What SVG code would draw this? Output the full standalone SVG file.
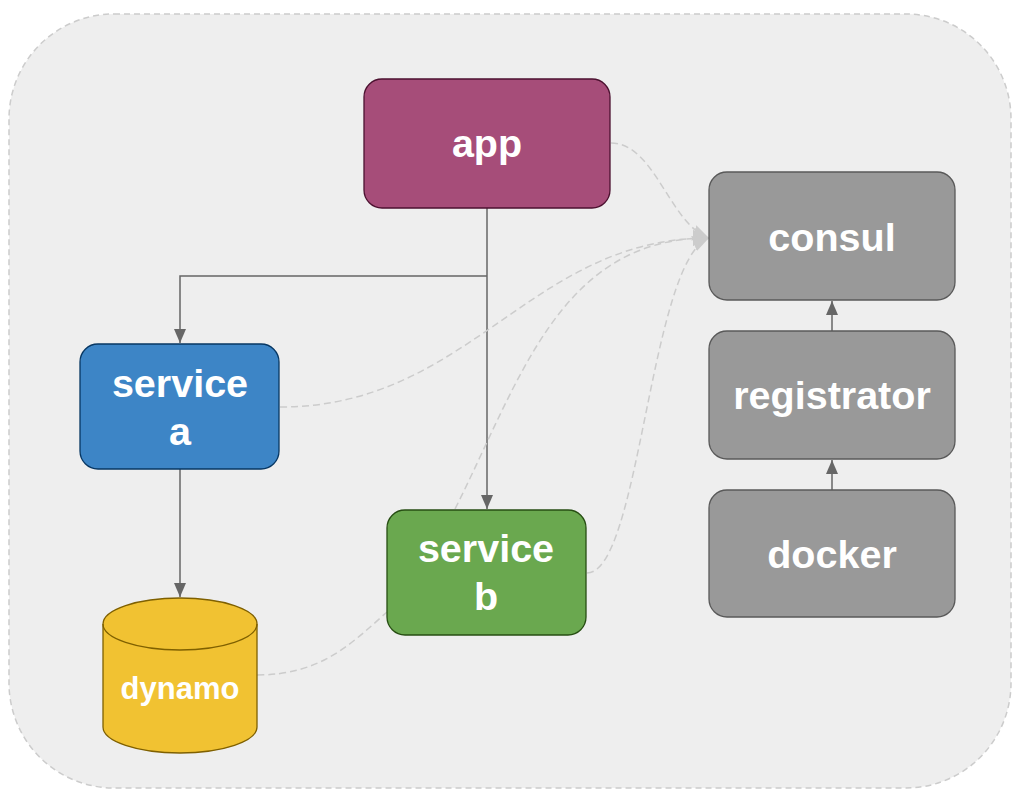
<svg xmlns="http://www.w3.org/2000/svg" width="1022" height="802" viewBox="0 0 1022 802">
<defs>
<marker id="solidArrow" markerUnits="userSpaceOnUse" markerWidth="14" markerHeight="12" refX="14" refY="6" orient="auto">
<path d="M0,0 L14,6 L0,12 Z" fill="#666666"/>
</marker>
<marker id="dashArrow" markerUnits="userSpaceOnUse" markerWidth="16" markerHeight="16" refX="16" refY="8" orient="auto">
<path d="M0,0 L16,8 L0,16 Z" fill="#cccccc"/>
</marker>
</defs>
<style>
.lbl{font-family:"Liberation Sans",Arial,sans-serif;font-weight:bold;fill:#ffffff;text-anchor:middle;font-size:39.5px}
.solid{fill:none;stroke:#666666;stroke-width:1.5;marker-end:url(#solidArrow)}
.dash{fill:none;stroke:#cccccc;stroke-width:1.5;stroke-dasharray:7,4}
.dashA{marker-end:url(#dashArrow)}
.gray{fill:#999999;stroke:#595959;stroke-width:1.3}
</style>
<rect id="background" x="9" y="14" width="1002" height="774" rx="105" ry="105" fill="#eeeeee" stroke="#cccccc" stroke-width="1.5" stroke-dasharray="6,4"/>
<g id="connectors">
<path class="solid" d="M487,208 L487,509"/>
<path class="solid" d="M487,276 L180,276 L180,343"/>
<path class="solid" d="M180,469 L180,597"/>
<path class="solid" d="M832,331 L832,301"/>
<path class="solid" d="M832,490 L832,460"/>
<path class="dash dashA" d="M611,143 C655,143 670,225 709,238"/>
<path class="dash dashA" d="M280,407 C470,407 530,238 709,238"/>
<path class="dash dashA" d="M455,509 C520,380 560,238 709,238"/>
<path class="dash dashA" d="M587,573 C640,573 650,260 709,238"/>
<path class="dash" d="M257,675 C320,675 350,645 387,612"/>
</g>
<g id="app">
<rect x="364" y="79" width="246" height="129" rx="18" fill="#a64d79" stroke="#4c1130" stroke-width="1.3"/>
<text class="lbl" x="487" y="157">app</text>
</g>
<g id="consul">
<rect class="gray" x="709" y="172" width="246" height="128" rx="18"/>
<text class="lbl" x="832" y="251">consul</text>
</g>
<g id="registrator">
<rect class="gray" x="709" y="331" width="246" height="128" rx="18"/>
<text class="lbl" x="832" y="409">registrator</text>
</g>
<g id="docker">
<rect class="gray" x="709" y="490" width="246" height="127" rx="18"/>
<text class="lbl" x="832" y="568">docker</text>
</g>
<g id="service-a">
<rect x="80" y="344" width="199" height="125" rx="18" fill="#3d85c6" stroke="#073763" stroke-width="1.3"/>
<text class="lbl" x="180" y="397">service</text>
<text class="lbl" x="180" y="445">a</text>
</g>
<g id="service-b">
<rect x="387" y="510" width="199" height="125" rx="18" fill="#6aa84f" stroke="#274e13" stroke-width="1.3"/>
<text class="lbl" x="486" y="562">service</text>
<text class="lbl" x="486" y="610">b</text>
</g>
<g id="dynamo">
<path d="M103,624 A77,26 0 0 1 257,624 L257,727 A77,26 0 0 1 103,727 Z" fill="#f1c232" stroke="#7f6000" stroke-width="1.3"/>
<path d="M103,624 A77,26 0 0 0 257,624" fill="none" stroke="#7f6000" stroke-width="1.3"/>
<text class="lbl" x="180" y="699" style="font-size:31px">dynamo</text>
</g>
</svg>
